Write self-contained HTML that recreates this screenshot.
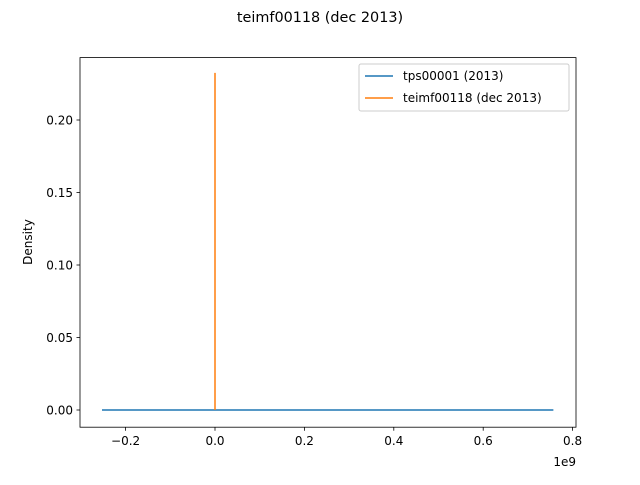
<!DOCTYPE html>
<html><head><meta charset="utf-8"><style>
body{margin:0;background:#fff;font-family:"Liberation Sans","DejaVu Sans",sans-serif;}
svg text{font-family:"DejaVu Sans","Liberation Sans",sans-serif;fill:#000;}
</style></head><body>
<svg id="chart" width="640" height="480">
<text x="320" y="22" font-size="14.4" text-anchor="middle">teimf00118 (dec 2013)</text>
<rect x="80" y="57.6" width="496" height="369.6" fill="none" stroke="#000" stroke-width="0.8"/>
<g id="xticks"></g><g id="yticks"></g><g id="series"></g>
<text x="576" y="466" font-size="12" text-anchor="end">1e9</text>
<text transform="translate(32,242) rotate(-90)" font-size="12" text-anchor="middle">Density</text>
<g>
<rect x="359" y="64" width="210" height="47" fill="#fff" stroke="#ccc" rx="2"/>
<line x1="365" y1="76" x2="393" y2="76" stroke="#1f77b4" stroke-width="1.5"/>
<text x="403" y="80" font-size="12">tps00001 (2013)</text>
<line x1="365" y1="98" x2="393" y2="98" stroke="#ff7f0e" stroke-width="1.5"/>
<text x="403" y="102" font-size="12">teimf00118 (dec 2013)</text>
</g>
</svg>
<script>
const xTicks=[-0.2,0.0,0.2,0.4,0.6,0.8];
const xTickLabels=["−0.2","0.0","0.2","0.4","0.6","0.8"];
const yTicks=[0,0.05,0.10,0.15,0.20];
const yTickLabels=["0.00","0.05","0.10","0.15","0.20"];
const blueX=[-0.2528,0.757];
const blueY=[0,0];
const orangeX=[0,0];
const orangeY=[0,0.2325];
const ns="http://www.w3.org/2000/svg";
function sx(v){return 215+v*447;}
function sy(v){return 410-v*1450;}
function mk(t,a,p){const e=document.createElementNS(ns,t);for(const k in a)e.setAttribute(k,a[k]);p.appendChild(e);return e;}
const xg=document.getElementById('xticks');
xTicks.forEach((v,i)=>{const x=sx(v);
const l=mk('line',{x1:x,y1:427.2,x2:x,y2:430.7,stroke:'#000','stroke-width':0.8},xg);


const t=mk('text',{x:x,y:445,'font-size':12,'text-anchor':'middle'},xg);t.textContent=xTickLabels[i];

});
const yg=document.getElementById('yticks');
yTicks.forEach((v,i)=>{const y=sy(v);
const l=mk('line',{x1:76.5,y1:y,x2:80,y2:y,stroke:'#000','stroke-width':0.8},yg);


const t=mk('text',{x:73,y:y+4.5,'font-size':12,'text-anchor':'end'},yg);t.textContent=yTickLabels[i];

});
const sg=document.getElementById('series');
const b=mk('polyline',{points:blueX.map((x,i)=>sx(x)+','+sy(blueY[i])).join(' '),fill:'none',stroke:'#1f77b4','stroke-width':1.5},sg);


const o=mk('polyline',{points:orangeX.map((x,i)=>sx(x)+','+sy(orangeY[i])).join(' '),fill:'none',stroke:'#ff7f0e','stroke-width':1.5},sg);


</script>
</body></html>
